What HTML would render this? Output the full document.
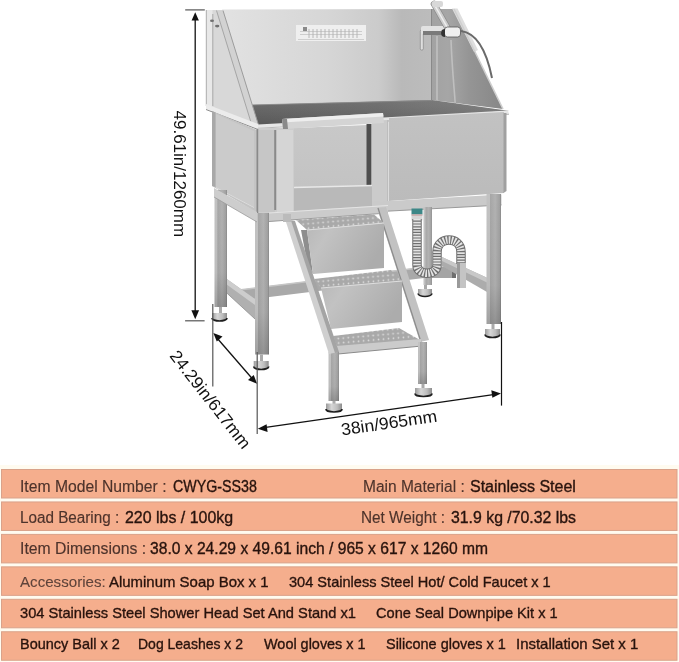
<!DOCTYPE html>
<html><head><meta charset="utf-8"><style>
html,body{margin:0;padding:0;background:#fff;}
body{width:679px;height:662px;position:relative;overflow:hidden;font-family:"Liberation Sans",sans-serif;}
.row{position:absolute;left:1px;width:676px;height:27.5px;background:#f5ae8d;border:1px solid #dba58c;border-left-color:#d9a088;}

.tbl{position:absolute;left:0;top:0;width:679px;height:662px;will-change:transform;}
span{position:absolute;white-space:pre;line-height:20px;transform-origin:0 0;}
.l{color:#4d332b;-webkit-text-stroke:0.15px #4d332b;}
.l2{color:#5e433a;-webkit-text-stroke:0.1px #5e433a;}
.v{color:#28130d;-webkit-text-stroke:0.35px #28130d;}
svg{position:absolute;left:0;top:0;will-change:transform;}
.dim{position:absolute;white-space:pre;line-height:20px;font-size:17px;color:#111;transform-origin:0 0;}
</style></head><body>
<svg width="679" height="662" viewBox="0 0 679 662">
<defs>
 <linearGradient id="gBack" x1="222" y1="0" x2="431" y2="0" gradientUnits="userSpaceOnUse">
  <stop offset="0" stop-color="#e2e2e2"/><stop offset="0.5" stop-color="#d6d6d6"/><stop offset="0.75" stop-color="#cbcbcb"/><stop offset="0.86" stop-color="#b9b9b9"/><stop offset="1" stop-color="#bcbcbc"/>
 </linearGradient>
 <linearGradient id="gBackV" x1="0" y1="10" x2="0" y2="102" gradientUnits="userSpaceOnUse">
  <stop offset="0" stop-color="#fff" stop-opacity="0.08"/><stop offset="1" stop-color="#000" stop-opacity="0.06"/>
 </linearGradient>
 <linearGradient id="gRside" x1="431" y1="0" x2="500" y2="0" gradientUnits="userSpaceOnUse">
  <stop offset="0" stop-color="#a2a2a2"/><stop offset="0.25" stop-color="#a6a6a6"/><stop offset="0.55" stop-color="#959595"/><stop offset="1" stop-color="#888888"/>
 </linearGradient>
 <linearGradient id="gLeg" x1="0" y1="0" x2="1" y2="0">
  <stop offset="0" stop-color="#c2c2c2"/><stop offset="0.22" stop-color="#c2c2c2"/><stop offset="0.25" stop-color="#a6a6a6"/><stop offset="0.6" stop-color="#b2b2b2"/><stop offset="0.92" stop-color="#a0a0a0"/><stop offset="1" stop-color="#858585"/>
 </linearGradient>
 <linearGradient id="gLegV" x1="0" y1="0" x2="0" y2="1">
  <stop offset="0" stop-color="#000" stop-opacity="0"/><stop offset="0.7" stop-color="#000" stop-opacity="0.03"/><stop offset="1" stop-color="#000" stop-opacity="0.18"/>
 </linearGradient>
 <linearGradient id="gFront" x1="0" y1="0" x2="0" y2="1">
  <stop offset="0" stop-color="#c2c2c2"/><stop offset="1" stop-color="#bbbbbb"/>
 </linearGradient>
 <linearGradient id="gDoor" x1="0" y1="0" x2="0" y2="1">
  <stop offset="0" stop-color="#c8c8c8"/><stop offset="1" stop-color="#c3c3c3"/>
 </linearGradient>
 <linearGradient id="gRiser" x1="0" y1="0" x2="1" y2="0.4">
  <stop offset="0" stop-color="#b8b8b8"/><stop offset="0.3" stop-color="#c2c2c2"/><stop offset="1" stop-color="#acacac"/>
 </linearGradient>
 <linearGradient id="gDark" x1="250" y1="0" x2="505" y2="0" gradientUnits="userSpaceOnUse">
  <stop offset="0" stop-color="#606060"/><stop offset="0.5" stop-color="#686868"/><stop offset="1" stop-color="#7a7a7a"/>
 </linearGradient>
 <linearGradient id="gDarkV" x1="0" y1="100" x2="0" y2="126" gradientUnits="userSpaceOnUse">
  <stop offset="0" stop-color="#fff" stop-opacity="0.07"/><stop offset="1" stop-color="#000" stop-opacity="0.1"/>
 </linearGradient>
 <pattern id="perf" width="5" height="4.5" patternUnits="userSpaceOnUse" patternTransform="rotate(-5)">
  <rect width="5" height="4.5" fill="#a9a9a9"/><circle cx="2.5" cy="2.2" r="0.9" fill="#dedede"/>
 </pattern>
 <linearGradient id="gFoot" x1="0" y1="0" x2="1" y2="0">
  <stop offset="0" stop-color="#9a9a9a"/><stop offset="0.35" stop-color="#d6d6d6"/><stop offset="0.7" stop-color="#bdbdbd"/><stop offset="1" stop-color="#8c8c8c"/>
 </linearGradient>
 <pattern id="rib" width="3" height="3" patternUnits="userSpaceOnUse">
  <rect width="3" height="3" fill="#dcdcdc"/><rect width="3" height="1.2" fill="#7a7a7a"/>
 </pattern>
</defs>


<!-- back wall -->
<polygon points="222,9.5 432,9 432,101 250,106" fill="url(#gBack)"/>
<!-- right inner wall -->
<polygon points="432,9 454,9 503,109 432,100" fill="url(#gRside)"/>
<line x1="431.5" y1="9" x2="431.5" y2="100" stroke="#7c7c7c" stroke-width="0.8"/>
<!-- right wall outer edge -->
<polygon points="452,8.5 457.5,8.5 478,50 474,52" fill="#dedede"/>
<line x1="454" y1="9" x2="503" y2="109" stroke="#cfcfcf" stroke-width="1.6"/>

<!-- faucet -->
<line x1="437" y1="36" x2="437" y2="116" stroke="#c4c4c4" stroke-width="1.4"/>
<path d="M451,40 C452,70 455,95 456,116" fill="none" stroke="#bfbfbf" stroke-width="1.6"/>
<rect x="420.3" y="30" width="3" height="20" rx="1.2" fill="#dedede" stroke="#7a7a7a" stroke-width="0.6"/>
<rect x="421" y="26" width="24" height="8" rx="2" fill="#e2e2e2"/>
<rect x="423" y="31" width="18" height="4" fill="#7a7a7a"/>
<path d="M434,4 L447,27" stroke="#8a8a8a" stroke-width="6.5" stroke-linecap="round"/>
<path d="M434,4 L447,27" stroke="#cdcdcd" stroke-width="5" stroke-linecap="round"/>
<path d="M434,4 L447,27" stroke="#eeeeee" stroke-width="1.5"/>
<rect x="432" y="1" width="11" height="6" rx="2" fill="#d8d8d8"/>
<rect x="444.5" y="27" width="16" height="10" rx="3" fill="#f0f0f0" stroke="#555" stroke-width="0.8"/>
<path d="M445,29 a4,4 0 0 0 0,8" fill="#333"/>

<!-- hose -->
<path d="M461,31 C476,33 486,48 492,78" fill="none" stroke="#6a6a6a" stroke-width="2"/>

<!-- soap box -->
<rect x="296" y="25" width="70" height="16" fill="#efefef"/>
<path d="M300,31.5 h62 M300,34.5 h62" stroke="#c4c4c4" stroke-width="0.8"/>
<path d="M309,29 v9 M313,29 v9 M317,29 v9 M321,29 v9 M325,29 v9 M329,29 v9 M333,29 v9 M337,29 v9 M341,29 v9 M345,29 v9 M349,29 v9 M353,29 v9 M357,29 v9" stroke="#b2b2b2" stroke-width="0.9"/>
<rect x="303" y="27" width="4" height="4" fill="#8a8a8a"/>
<line x1="298" y1="39.5" x2="364" y2="39.5" stroke="#cfcfcf" stroke-width="1"/>

<!-- dark interior -->
<polygon points="249,105 432,100 503,110 509,111 258,126" fill="url(#gDark)"/>
<polygon points="249,105 432,100 503,110 509,111 258,126" fill="url(#gDarkV)"/>
<line x1="250" y1="105" x2="432" y2="100.5" stroke="#8a8a8a" stroke-width="0.8"/>

<!-- left side wall of backsplash -->
<polygon points="206,10 222,10 257,125 206,106" fill="#d8d8d8"/>
<polygon points="206,10 212.5,10 212.5,106 206,106" fill="#e8e8e8"/>
<line x1="206.3" y1="10" x2="206.3" y2="106" stroke="#9e9e9e" stroke-width="0.8"/>
<line x1="212.8" y1="14" x2="212.8" y2="106" stroke="#a8a8a8" stroke-width="1"/>
<polygon points="216.5,10.5 223,10.5 258.5,125 251.5,125" fill="#d2d2d2"/>
<line x1="223" y1="10.5" x2="258.5" y2="125" stroke="#9c9c9c" stroke-width="1"/>
<line x1="216.5" y1="10.5" x2="251.5" y2="124" stroke="#a6a6a6" stroke-width="1"/>
<ellipse cx="212" cy="20.7" rx="2" ry="1.2" fill="#707070"/>
<ellipse cx="217.2" cy="26.1" rx="2.2" ry="1.3" fill="#707070"/>

<!-- left rim -->
<polygon points="206,104 258,124 258,129 206,109" fill="#ececec"/>
<line x1="206" y1="109.5" x2="258" y2="129.5" stroke="#8a8a8a" stroke-width="1"/>
<!-- front rim -->
<polygon points="258,124.5 508,110.5 509,114 258,128" fill="#e6e6e6"/>
<line x1="258" y1="128.3" x2="509" y2="114.3" stroke="#a8a8a8" stroke-width="0.8"/>

<!-- left side panel -->
<polygon points="212,111 257,130 257,213 212,186" fill="#c4c4c4"/>
<polygon points="216,114 254,131 254,207 216,187" fill="#cbcbcb"/>
<polygon points="212,111 215.5,112.5 215.5,187 212,186" fill="#a8a8a8"/>
<line x1="216" y1="187.5" x2="254" y2="207.5" stroke="#dcdcdc" stroke-width="1"/>

<!-- front left corner post -->
<rect x="257" y="128" width="37" height="85" fill="#cdcdcd"/>
<rect x="259" y="130" width="16" height="82" fill="#c6c6c6"/>
<rect x="256.5" y="129" width="1.8" height="84" fill="#8a8a8a"/>
<rect x="274.2" y="130" width="2" height="80" fill="#8a8a8a"/>
<rect x="277" y="130" width="16" height="82" fill="#d5d5d5"/>

<!-- door panel -->
<polygon points="294,128 367,125 367,186 294,187" fill="url(#gDoor)"/>
<polygon points="366.5,124 371.5,124 371.5,187 366.5,187" fill="#4e4e4e"/>
<polygon points="294,187 372,185 372,211 294,212" fill="#b9b9b9"/>
<line x1="294" y1="187.5" x2="372" y2="185.5" stroke="#e8e8e8" stroke-width="1.5"/>
<!-- right door post -->
<polygon points="372,121 388,120 388,203 372,210" fill="#cbcbcb"/>
<line x1="388" y1="120" x2="388" y2="203" stroke="#a8a8a8" stroke-width="0.8"/>
<!-- door handle -->
<polygon points="282,119 383,113 384,123 283,129" fill="#d4d4d4"/>
<polygon points="282,119 383,113 383.5,116.5 282.5,122.5" fill="#eeeeee"/>
<polygon points="282,119 287,119 288,129 283,129" fill="#8a8a8a"/>

<!-- front right panel -->
<polygon points="389,118 504,112 504,193 389,201" fill="url(#gFront)"/>
<polygon points="503.5,113 506.5,113 506.5,191 503.5,193" fill="#a0a0a0"/>
<!-- rail under front right panel -->
<polygon points="372,202 501.5,194.5 501.5,205 372,212" fill="#cacaca"/>
<line x1="372" y1="212" x2="501.5" y2="205" stroke="#999" stroke-width="1"/>


<!-- back lower rail -->
<polygon points="241,289.5 424,267 424,278 241,300.5" fill="#a9a9a9"/>
<line x1="241" y1="289.8" x2="424" y2="267.3" stroke="#c6c6c6" stroke-width="1.4"/>
<!-- small bar behind drain -->
<rect x="432" y="266.5" width="24" height="11.5" fill="#a4a4a4"/>
<rect x="452" y="266.5" width="4" height="11.5" fill="#6e6e6e"/>
<!-- right side lower rail -->
<polygon points="442,257 487,277.7 487,292 442,266" fill="#acacac"/>
<polygon points="442,257 487,277.7 487,282.5 442,261" fill="#c8c8c8"/>
<!-- left side lower rail -->
<polygon points="217,272 255,299 255,319 217,284" fill="#b0b0b0"/>
<polygon points="217,272 255,299 255,305 217,277.5" fill="#cdcdcd"/>
<line x1="217" y1="284" x2="255" y2="319" stroke="#8e8e8e" stroke-width="0.8"/>

<!-- legs -->
<rect x="214.5" y="190" width="12.5" height="117" fill="url(#gLeg)"/>
<rect x="214.5" y="190" width="12.5" height="117" fill="url(#gLegV)"/>
<rect x="423.5" y="207" width="8.5" height="78" fill="url(#gLeg)"/>
<rect x="486.5" y="194" width="14.5" height="130" fill="url(#gLeg)"/>
<rect x="486.5" y="194" width="14.5" height="130" fill="url(#gLegV)"/>
<rect x="255" y="213" width="14" height="141.5" fill="url(#gLeg)"/>
<rect x="255" y="213" width="14" height="141.5" fill="url(#gLegV)"/>

<!-- frame under door -->
<polygon points="269,212.5 388,205 388,213 269,221.5" fill="#cbcbcb"/>
<line x1="269" y1="221.5" x2="388" y2="213" stroke="#9a9a9a" stroke-width="1"/>
<line x1="269" y1="213" x2="388" y2="205.5" stroke="#e4e4e4" stroke-width="1"/>
<!-- left side top rail -->
<polygon points="214,188 257,212 257,222 214,197" fill="#cdcdcd"/>
<line x1="214" y1="197" x2="257" y2="222" stroke="#9a9a9a" stroke-width="0.8"/>

<!-- feet -->
<g id="foot">
</g>
<g>
 <rect x="219" y="307" width="3" height="6" fill="#aaa"/>
 <path d="M212,313 h15 v5 a7.5,3 0 0 1 -15,0 z" fill="url(#gFoot)"/><path d="M212,318 a7.5,3 0 0 0 15,0" fill="none" stroke="#1e1e1e" stroke-width="1.7"/>
 <rect x="260" y="354.5" width="3" height="6.5" fill="#aaa"/>
 <path d="M253.7,361 h15 v5.5 a7.5,3 0 0 1 -15,0 z" fill="url(#gFoot)"/><path d="M253.7,366.5 a7.5,3 0 0 0 15,0" fill="none" stroke="#1e1e1e" stroke-width="1.7"/>
 <rect x="424" y="285" width="3" height="4" fill="#aaa"/>
 <path d="M418,289 h14 v4.5 a7,3 0 0 1 -14,0 z" fill="url(#gFoot)"/><path d="M418,293.5 a7,3 0 0 0 14,0" fill="none" stroke="#1e1e1e" stroke-width="1.5"/>
 <rect x="491.5" y="324" width="3" height="5" fill="#aaa"/>
 <path d="M485,329 h15 v5.5 a7.5,3 0 0 1 -15,0 z" fill="url(#gFoot)"/><path d="M485,334.5 a7.5,3 0 0 0 15,0" fill="none" stroke="#1e1e1e" stroke-width="1.7"/>
 <rect x="332.5" y="401" width="3" height="3" fill="#aaa"/>
 <path d="M326,403.5 h16 v5.5 a8,3 0 0 1 -16,0 z" fill="url(#gFoot)"/><path d="M326,409 a8,3 0 0 0 16,0" fill="none" stroke="#1e1e1e" stroke-width="1.7"/>
 <rect x="421.5" y="384" width="3" height="4" fill="#aaa"/>
 <path d="M415,388 h17 v5.5 a8.5,3 0 0 1 -17,0 z" fill="url(#gFoot)"/><path d="M415,393.5 a8.5,3 0 0 0 17,0" fill="none" stroke="#1e1e1e" stroke-width="1.7"/>
</g>

<!-- drain -->
<rect x="411.5" y="208.5" width="11" height="6" fill="#3d8787"/>
<rect x="411.5" y="214.5" width="11" height="6" fill="#d6d6d6"/>
<line x1="411.5" y1="215" x2="422.5" y2="215" stroke="#c08080" stroke-width="0.8"/>
<path d="M417,219 L417,265 C417,276 437,276 437,265 L437,252 C437,236 461,236 461,252 L461,264" fill="none" stroke="#6f6f6f" stroke-width="9.5"/>
<path d="M417,219 L417,265 C417,276 437,276 437,265 L437,252 C437,236 461,236 461,252 L461,264" fill="none" stroke="#e4e4e4" stroke-width="7.5" stroke-dasharray="1.6 1.2"/>
<rect x="457" y="263" width="9" height="25" fill="#c4c4c4"/>
<rect x="457" y="263" width="3" height="25" fill="#9a9a9a"/>

<!-- stairs -->
<!-- right stringer -->
<polygon points="377,208 386,207 429,340 420,342" fill="#c2c2c2"/>
<line x1="378" y1="208" x2="421" y2="342" stroke="#8c8c8c" stroke-width="1.2"/>
<!-- step 1 -->
<polygon points="296,220 374,214.5 384,223 307,230" fill="url(#perf)"/>
<polygon points="301,230 307,230 313,274 307,262" fill="#8e8e8e"/>
<polygon points="307,230 384,223 384,268 313,274" fill="url(#gRiser)"/>
<line x1="307" y1="230" x2="384" y2="223" stroke="#dedede" stroke-width="1.2"/>
<!-- step 2 -->
<polygon points="314,279 391,270 402,281 321,288" fill="url(#perf)"/>
<polygon points="321,288 402,281 402,322 331,329" fill="url(#gRiser)"/>
<line x1="321" y1="288" x2="402" y2="281" stroke="#dedede" stroke-width="1.2"/>
<!-- step 3 -->
<polygon points="333,336 399,328 420,340 337,347" fill="url(#perf)"/>
<polygon points="336,346 421,339 422,346 338,354" fill="#cbcbcb"/>
<line x1="338" y1="354" x2="422" y2="346" stroke="#8a8a8a" stroke-width="1"/>
<!-- step legs -->
<rect x="328.5" y="352" width="10.5" height="49" fill="url(#gLeg)"/>
<rect x="328.5" y="352" width="10.5" height="49" fill="url(#gLegV)"/>
<rect x="418" y="342" width="9" height="42" fill="url(#gLeg)"/>
<rect x="418" y="342" width="9" height="42" fill="url(#gLegV)"/>
<!-- left stringer -->
<polygon points="285,219 294,221 338,352 329,354" fill="#cfcfcf"/>
<polygon points="291,220.5 295,221 339,352 335,353" fill="#a4a4a4"/>
<rect x="283" y="214" width="8" height="8" fill="#bbb"/>

<!-- dimension lines -->
<g stroke="#111" stroke-width="1.3" fill="#111">
 <line x1="195.2" y1="18" x2="195.2" y2="312"/>
 <polygon points="195.2,12.2 191.6,20.6 198.9,20.6" stroke="none"/>
 <polygon points="195.2,319.2 191.4,310.3 199.1,310.3" stroke="none"/>
 <line x1="217" y1="338" x2="253" y2="379.5"/>
 <polygon points="213.3,332.9 222.5,336.5 216.8,341.4" stroke="none"/>
 <polygon points="257.1,383.7 248.0,380.1 253.7,375.1" stroke="none"/>
 <line x1="264" y1="427.6" x2="495" y2="394.3"/>
 <polygon points="257.8,428.7 266.6,424.3 267.6,431.9" stroke="none"/>
 <polygon points="501,393.4 492.4,397.8 491.3,390.2" stroke="none"/>
</g>
<g stroke="#555" stroke-width="1.2">
 <line x1="185.2" y1="9.9" x2="204.8" y2="9.9"/>
 <line x1="185.1" y1="320.8" x2="204.6" y2="320.8"/>
 <line x1="212.8" y1="304" x2="212.8" y2="386.4"/>
 <line x1="257.2" y1="352" x2="257.2" y2="434"/>
 <line x1="501.5" y1="322" x2="501.5" y2="405.6" stroke="#111"/>
</g>
<g font-family="Liberation Sans" font-size="17" fill="#111">
 <text transform="translate(174,110.5) rotate(90)">49.61in/1260mm</text>
 <text transform="translate(342,435.5) rotate(-8.26) scale(1.035,1)">38in/965mm</text>
 <text transform="translate(169,356) rotate(52) scale(1.02,1)">24.29in/617mm</text>
</g>
</svg>

<div class="tbl"><svg class="rows" width="679" height="662" viewBox="0 0 679 662"><rect x="0" y="465" width="679" height="197" fill="#fffbf0"/><rect x="1.5" y="469.50" width="675.5" height="28.50" fill="#f5ae8d" stroke="#d9a28a" stroke-width="1"/><rect x="1.5" y="501.95" width="675.5" height="28.50" fill="#f5ae8d" stroke="#d9a28a" stroke-width="1"/><rect x="1.5" y="534.40" width="675.5" height="28.50" fill="#f5ae8d" stroke="#d9a28a" stroke-width="1"/><rect x="1.5" y="566.85" width="675.5" height="28.50" fill="#f5ae8d" stroke="#d9a28a" stroke-width="1"/><rect x="1.5" y="599.30" width="675.5" height="28.50" fill="#f5ae8d" stroke="#d9a28a" stroke-width="1"/><rect x="1.5" y="631.75" width="675.5" height="28.50" fill="#f5ae8d" stroke="#d9a28a" stroke-width="1"/></svg><span class="l" style="left:20.00px;top:476.56px;font-size:16px;transform:scaleX(0.9807)">Item Model Number :</span><span class="v" style="left:173.20px;top:476.56px;font-size:16px;transform:scaleX(0.8902)">CWYG-SS38</span><span class="l" style="left:363.00px;top:476.56px;font-size:16px;transform:scaleX(0.9693)">Main Material :</span><span class="v" style="left:469.70px;top:476.56px;font-size:16px;transform:scaleX(1.0005)">Stainless Steel</span><span class="l" style="left:20.00px;top:507.96px;font-size:16px;transform:scaleX(0.9531)">Load Bearing :</span><span class="v" style="left:124.70px;top:507.96px;font-size:16px;transform:scaleX(0.9960)">220 lbs / 100kg</span><span class="l" style="left:361.30px;top:507.96px;font-size:16px;transform:scaleX(0.9584)">Net Weight :</span><span class="v" style="left:450.60px;top:507.96px;font-size:16px;transform:scaleX(0.9896)">31.9 kg /70.32 lbs</span><span class="l" style="left:20.00px;top:539.46px;font-size:16px;transform:scaleX(0.9856)">Item Dimensions :</span><span class="v" style="left:150.20px;top:539.46px;font-size:16px;transform:scaleX(0.9769)">38.0 x 24.29 x 49.61 inch / 965 x 617 x 1260 mm</span><span class="l2" style="left:19.50px;top:571.60px;font-size:15px;transform:scaleX(1.0079)">Accessories:</span><span class="v" style="left:109.40px;top:571.60px;font-size:15px;transform:scaleX(0.9964)">Aluminum Soap Box x 1</span><span class="v" style="left:289.00px;top:571.60px;font-size:15px;transform:scaleX(0.9717)">304 Stainless Steel Hot/ Cold Faucet x 1</span><span class="v" style="left:19.50px;top:603.30px;font-size:15px;transform:scaleX(0.9780)">304 Stainless Steel Shower Head Set And Stand x1</span><span class="v" style="left:376.40px;top:603.30px;font-size:15px;transform:scaleX(0.9723)">Cone Seal Downpipe Kit x 1</span><span class="v" style="left:20.00px;top:634.20px;font-size:15px;transform:scaleX(0.9643)">Bouncy Ball x 2</span><span class="v" style="left:138.00px;top:634.20px;font-size:15px;transform:scaleX(0.9327)">Dog Leashes x 2</span><span class="v" style="left:263.90px;top:634.20px;font-size:15px;transform:scaleX(0.9620)">Wool gloves x 1</span><span class="v" style="left:386.30px;top:634.20px;font-size:15px;transform:scaleX(0.9635)">Silicone gloves x 1</span><span class="v" style="left:515.70px;top:634.20px;font-size:15px;transform:scaleX(0.9977)">Installation Set x 1</span></div>
</body></html>
